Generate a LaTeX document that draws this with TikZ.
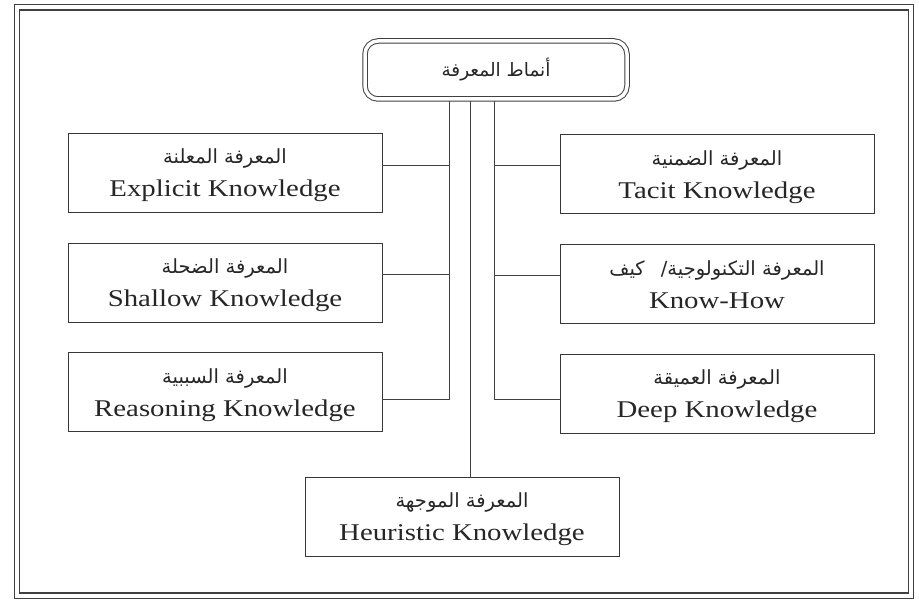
\documentclass[tikz,border=0pt]{standalone}
\usepackage{fontspec}
\setmainfont[FakeStretch=1.2]{Liberation Serif}
\newfontfamily\arfont[Script=Arabic]{DejaVu Sans}
\TeXXeTstate=1
\tikzset{
  kbox/.style={draw=black!78, line width=0.9pt, minimum width=314pt, minimum height=79pt, inner sep=0pt},
  artext/.style={anchor=base, inner sep=0pt, text=black!85, font=\arfont\fontsize{19.5}{22}\selectfont},
  entext/.style={anchor=base, inner sep=0pt, text=black!85, font=\fontsize{24}{28}\selectfont},
  link/.style={draw=black!75, line width=0.9pt},
  frame/.style={draw=black!75, double=white, double distance=4pt, line width=1.4pt}
}
\begin{document}
\begin{tikzpicture}[x=1pt,y=-1pt]
\useasboundingbox (0,0) rectangle (919,602);
\fill[white] (0,0) rectangle (919,602);
% outer double frame
\draw[frame] (17,7.5) rectangle (911,595.5);
% top box
\node[draw=black!75, double=white, double distance=3.5pt, line width=1pt, rounded corners=13pt,
      minimum width=262pt, minimum height=58pt, inner sep=0pt, text=black!85] (top) at (496,70)
      {\arfont\fontsize{18.5}{22}\selectfont\beginR أنماط المعرفة\endR};
% boxes
\node[kbox] (expl) at (225,172.5) {};
\node[kbox] (shal) at (225,282.5) {};
\node[kbox] (reas) at (225,392) {};
\node[kbox] (tacit) at (717,174) {};
\node[kbox] (know) at (717,284) {};
\node[kbox] (deep) at (717,393.5) {};
\node[kbox] (heur) at (462,516.5) {};
% texts
\node[artext] (explA) at ([yshift=9pt]expl.center) {\beginR المعرفة المعلنة\endR};
\node[entext] (explE) at ([yshift=-24pt]expl.center) {Explicit Knowledge};
\node[artext] (shalA) at ([yshift=9pt]shal.center) {\beginR المعرفة الضحلة\endR};
\node[entext] (shalE) at ([yshift=-24pt]shal.center) {Shallow Knowledge};
\node[artext] (reasA) at ([yshift=9pt]reas.center) {\beginR المعرفة السببية\endR};
\node[entext] (reasE) at ([yshift=-24pt]reas.center) {Reasoning Knowledge};
\node[artext] (tacitA) at ([yshift=9pt]tacit.center) {\beginR المعرفة الضمنية\endR};
\node[entext] (tacitE) at ([yshift=-24pt]tacit.center) {Tacit Knowledge};
\node[artext] (knowA) at ([yshift=9pt]know.center) {\beginR المعرفة التكنولوجية/\hspace{10pt} كيف\endR};
\node[entext] (knowE) at ([yshift=-24pt]know.center) {Know-How};
\node[artext] (deepA) at ([yshift=9pt]deep.center) {\beginR المعرفة العميقة\endR};
\node[entext] (deepE) at ([yshift=-24pt]deep.center) {Deep Knowledge};
\node[artext] (heurA) at ([yshift=9pt]heur.center) {\beginR المعرفة الموجهة\endR};
\node[entext] (heurE) at ([yshift=-24pt]heur.center) {Heuristic Knowledge};
% trunk coordinates
\coordinate (L) at (449,0);
\coordinate (M) at (470,0);
\coordinate (R) at (494,0);
\path ([yshift=7.5pt]expl.east) coordinate (e1)
      ([yshift=8.5pt]shal.east) coordinate (e2)
      ([yshift=-7pt]reas.east) coordinate (e3)
      ([yshift=9pt]tacit.west) coordinate (t1)
      ([yshift=9pt]know.west) coordinate (t2)
      ([yshift=-5.5pt]deep.west) coordinate (t3);
% left trunk
\draw[link] ([yshift=-1.5pt]top.south -| L) |- (e3);
\draw[link] (e1) -- (e1 -| L);
\draw[link] (e2) -- (e2 -| L);
% middle trunk
\draw[link] ([yshift=-1.5pt]top.south -| M) -- (heur.north -| M);
% right trunk
\draw[link] ([yshift=-1.5pt]top.south -| R) |- (t3);
\draw[link] (t1) -- (t1 -| R);
\draw[link] (t2) -- (t2 -| R);
\end{tikzpicture}
\end{document}
